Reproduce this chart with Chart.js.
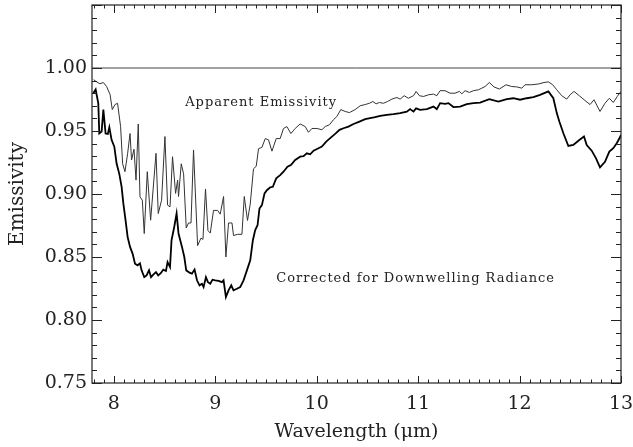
<!DOCTYPE html>
<html>
<head>
<meta charset="utf-8">
<script src="https://cdn.jsdelivr.net/npm/chart.js@4.4.1/dist/chart.umd.min.js"></script>
<style>
  html, body { margin: 0; padding: 0; background: #fff; }
  #chart { display: block; }
</style>
</head>
<body>
<canvas id="chart" width="633" height="447"></canvas>
<script>
// apparent emissivity (thin line)
var apparentWl = [7.801,7.831,7.864,7.897,7.929,7.963,7.985,8.012,8.037,8.067,8.087,8.110,8.136,8.160,8.175,8.199,8.219,8.241,8.258,8.281,
  8.300,8.330,8.363,8.416,8.438,8.471,8.504,8.530,8.554,8.579,8.609,8.629,8.638,8.665,8.688,8.714,8.737,8.761,8.786,8.826,
  8.859,8.879,8.904,8.928,8.951,8.983,9.023,9.049,9.082,9.105,9.131,9.165,9.180,9.220,9.263,9.286,9.318,9.345,9.377,9.404,
  9.427,9.460,9.493,9.525,9.559,9.601,9.640,9.673,9.706,9.746,9.788,9.837,9.887,9.919,9.953,10.002,10.051,10.084,10.126,10.166,
  10.199,10.238,10.281,10.323,10.379,10.429,10.478,10.520,10.554,10.586,10.619,10.658,10.698,10.741,10.790,10.823,10.862,10.904,10.954,10.980,
  11.013,11.052,11.101,11.151,11.184,11.217,11.266,11.315,11.364,11.407,11.431,11.463,11.505,11.545,11.594,11.628,11.660,11.702,11.749,11.801,
  11.867,11.923,11.972,12.022,12.054,12.120,12.185,12.241,12.284,12.327,12.367,12.416,12.465,12.498,12.537,12.589,12.645,12.695,12.734,12.793,
  12.842,12.885,12.924,12.963,13.000];
var apparentEm = [0.9907,0.989,0.9875,0.9885,0.9853,0.979,0.967,0.971,0.972,0.9535,0.924,0.9177,0.932,0.948,0.927,0.9355,0.911,0.9556,0.8978,0.8951,
  0.8686,0.9177,0.8792,0.9323,0.8845,0.8951,0.9456,0.8912,0.8898,0.9296,0.9005,0.911,0.898,0.924,0.916,0.873,0.877,0.877,0.935,0.859,
  0.865,0.864,0.904,0.871,0.869,0.887,0.887,0.884,0.898,0.850,0.877,0.877,0.867,0.868,0.868,0.898,0.879,0.892,0.920,0.922,
  0.936,0.937,0.944,0.943,0.934,0.944,0.944,0.952,0.9535,0.948,0.952,0.9556,0.9535,0.949,0.952,0.952,0.951,0.9535,0.955,0.959,
  0.9615,0.967,0.9655,0.9646,0.967,0.970,0.971,0.972,0.9734,0.9716,0.9726,0.972,0.9734,0.9753,0.9766,0.9753,0.978,0.976,0.978,0.9814,
  0.978,0.9774,0.9787,0.9793,0.978,0.982,0.982,0.980,0.980,0.9814,0.9795,0.982,0.9806,0.982,0.9827,0.984,0.9853,0.9885,0.9849,0.9833,
  0.9867,0.9853,0.985,0.984,0.9867,0.9867,0.9873,0.9885,0.989,0.9867,0.9827,0.978,0.9753,0.9787,0.9814,0.978,0.9742,0.971,0.9748,0.9655,
  0.972,0.976,0.9726,0.9774,0.9814];

// corrected for downwelling radiance (thick line)
var correctedWl = [7.798,7.821,7.847,7.857,7.880,7.897,7.919,7.941,7.956,7.978,8.005,8.028,8.054,8.077,8.094,8.116,8.136,8.160,8.185,8.209,
  8.234,8.258,8.274,8.300,8.323,8.347,8.367,8.389,8.416,8.438,8.465,8.488,8.514,8.530,8.554,8.569,8.596,8.619,8.638,8.672,
  8.695,8.714,8.747,8.770,8.796,8.820,8.845,8.869,8.885,8.908,8.928,8.951,8.973,9.000,9.033,9.066,9.082,9.105,9.131,9.158,
  9.180,9.214,9.246,9.279,9.312,9.345,9.371,9.394,9.417,9.436,9.460,9.486,9.509,9.542,9.568,9.601,9.640,9.673,9.712,9.746,
  9.788,9.837,9.870,9.903,9.936,9.969,10.018,10.051,10.094,10.133,10.182,10.225,10.264,10.313,10.363,10.422,10.478,10.527,10.576,10.626,
  10.692,10.757,10.823,10.889,10.921,10.954,10.980,11.020,11.086,11.151,11.184,11.217,11.266,11.299,11.348,11.414,11.480,11.545,11.611,11.702,
  11.791,11.874,11.939,12.005,12.071,12.136,12.202,12.284,12.333,12.367,12.392,12.432,12.481,12.530,12.589,12.635,12.662,12.711,12.754,12.793,
  12.842,12.885,12.924,12.958,12.990,13.000];
var correctedEm = [0.980,0.983,0.972,0.948,0.9495,0.967,0.948,0.9477,0.953,0.943,0.9376,0.924,0.916,0.9057,0.8925,0.879,0.866,0.858,0.8527,0.8447,
  0.8434,0.845,0.8394,0.834,0.8354,0.8394,0.834,0.836,0.838,0.8354,0.8373,0.840,0.8389,0.846,0.842,0.8633,0.874,0.8845,0.8686,0.858,
  0.850,0.8394,0.8376,0.8368,0.840,0.8315,0.8275,0.8288,0.8261,0.834,0.830,0.8288,0.832,0.8315,0.831,0.830,0.8315,0.8182,0.8235,0.8275,
  0.8235,0.8248,0.8261,0.8315,0.8394,0.8474,0.8633,0.8713,0.8752,0.8885,0.8912,0.9005,0.903,0.9053,0.9057,0.9124,0.915,0.9177,0.9217,0.923,
  0.927,0.9296,0.930,0.9323,0.9315,0.9344,0.9363,0.9376,0.9416,0.9443,0.9477,0.9509,0.9522,0.9535,0.9556,0.9575,0.9594,0.9602,0.961,0.962,
  0.9628,0.9634,0.9642,0.9654,0.9674,0.9654,0.968,0.9668,0.9674,0.9694,0.9674,0.9721,0.9716,0.9721,0.969,0.9694,0.9713,0.9721,0.9726,0.9753,
  0.9734,0.9753,0.976,0.9748,0.976,0.9769,0.9787,0.9814,0.976,0.9642,0.9575,0.9482,0.9381,0.9389,0.9429,0.9456,0.9389,0.9344,0.9283,0.9212,
  0.9256,0.9336,0.9363,0.9403,0.945,0.9469];

// unity reference line
var unityWl = [7.785, 13.0];
var unityEm = [1.0, 1.0];

var xTicks = [8, 9, 10, 11, 12, 13];
var yTicks = [0.75, 0.80, 0.85, 0.90, 0.95, 1.00];

var labelTexts = ["Apparent Emissivity", "Corrected for Downwelling Radiance"];
var labelWl = [8.704, 9.601];
var labelEm = [0.9728, 0.8326];

function pairs(xs, ys) {
    var out = [];
    for (var i = 0; i < xs.length; i++) {
        out.push({x: xs[i], y: ys[i]});
    }
    return out;
}

var serif = "'DejaVu Serif', 'Liberation Serif', serif";
var ink = "#222";

// frame, inward ticks and the two curve labels
var framePlugin = {
    id: "frame",
    afterDraw: function(chart) {
        var ctx = chart.ctx;
        var a = chart.chartArea;
        var xs = chart.scales.x;
        var ys = chart.scales.y;
        ctx.save();
        ctx.strokeStyle = ink;
        ctx.lineWidth = 1.2;
        ctx.strokeRect(a.left, a.top, a.right - a.left, a.bottom - a.top);

        ctx.lineWidth = 1;
        ctx.beginPath();
        // x ticks every 0.1, long every 1
        for (var i = Math.ceil(xs.min * 10); i <= Math.floor(xs.max * 10 + 0.001); i++) {
            var px = Math.round(xs.getPixelForValue(i / 10)) + 0.5;
            var major = (i % 10 === 0);
            var lb = major ? 7 : 3.5;
            var lt = major ? 8 : 3.5;
            ctx.moveTo(px, a.bottom); ctx.lineTo(px, a.bottom - lb);
            ctx.moveTo(px, a.top); ctx.lineTo(px, a.top + lt);
        }
        // y ticks every 0.01, long every 0.05
        for (var j = Math.ceil(ys.min * 100 - 0.001); j <= Math.floor(ys.max * 100 + 0.001); j++) {
            var py = Math.round(ys.getPixelForValue(j / 100)) + 0.5;
            var maj = (j % 5 === 0);
            var l = maj ? 10 : 5;
            ctx.moveTo(a.left, py); ctx.lineTo(a.left + l, py);
            ctx.moveTo(a.right, py); ctx.lineTo(a.right - l, py);
        }
        ctx.stroke();

        ctx.fillStyle = ink;
        ctx.font = "13px " + serif;
        ctx.letterSpacing = "1px";
        ctx.textAlign = "left";
        ctx.textBaseline = "middle";
        for (var k = 0; k < labelTexts.length; k++) {
            ctx.fillText(labelTexts[k], xs.getPixelForValue(labelWl[k]), ys.getPixelForValue(labelEm[k]));
        }
        ctx.restore();
    }
};

var ctx0 = document.getElementById("chart");
var myChart = new Chart(ctx0, {
    type: "line",
    data: {
        datasets: [
            {label: "Unity", data: pairs(unityWl, unityEm), borderColor: "#444", borderWidth: 1, pointRadius: 0, fill: false},
            {label: "Apparent Emissivity", data: pairs(apparentWl, apparentEm), borderColor: "#333", borderWidth: 1, pointRadius: 0, fill: false, tension: 0},
            {label: "Corrected for Downwelling Radiance", data: pairs(correctedWl, correctedEm), borderColor: "#000", borderWidth: 1.8, pointRadius: 0, fill: false, tension: 0}
        ]
    },
    options: {
        responsive: false,
        animation: false,
        layout: {padding: {top: 5, right: 12, left: 0, bottom: 0}},
        plugins: {legend: {display: false}, tooltip: {enabled: false}},
        scales: {
            x: {
                type: "linear",
                min: 7.785,
                max: 13.0,
                grid: {display: false, drawTicks: false},
                border: {display: false},
                afterBuildTicks: function(scale) {
                    scale.ticks = xTicks.map(function(v) { return {value: v}; });
                },
                afterFit: function(scale) {
                    scale.height = 64;
                    scale.paddingLeft = 0;
                    scale.paddingRight = 0;
                },
                ticks: {
                    padding: 10,
                    maxRotation: 0,
                    color: ink,
                    font: {family: serif, size: 19},
                    callback: function(v) { return String(v); }
                },
                title: {
                    display: true,
                    text: "Wavelength (\u03bcm)",
                    color: ink,
                    font: {family: serif, size: 19},
                    padding: {top: 0, bottom: 4}
                }
            },
            y: {
                min: 0.75,
                max: 1.05,
                grid: {display: false, drawTicks: false},
                border: {display: false},
                afterBuildTicks: function(scale) {
                    scale.ticks = yTicks.map(function(v) { return {value: v}; });
                },
                afterFit: function(scale) {
                    scale.width = 92;
                    scale.paddingTop = 0;
                    scale.paddingBottom = 0;
                },
                ticks: {
                    padding: 5,
                    color: ink,
                    font: {family: serif, size: 19},
                    callback: function(v) { return Number(v).toFixed(2); }
                },
                title: {
                    display: true,
                    text: "Emissivity",
                    color: ink,
                    font: {family: serif, size: 20},
                    padding: {top: 6, bottom: 0}
                }
            }
        }
    },
    plugins: [framePlugin]
});
</script>
</body>
</html>
